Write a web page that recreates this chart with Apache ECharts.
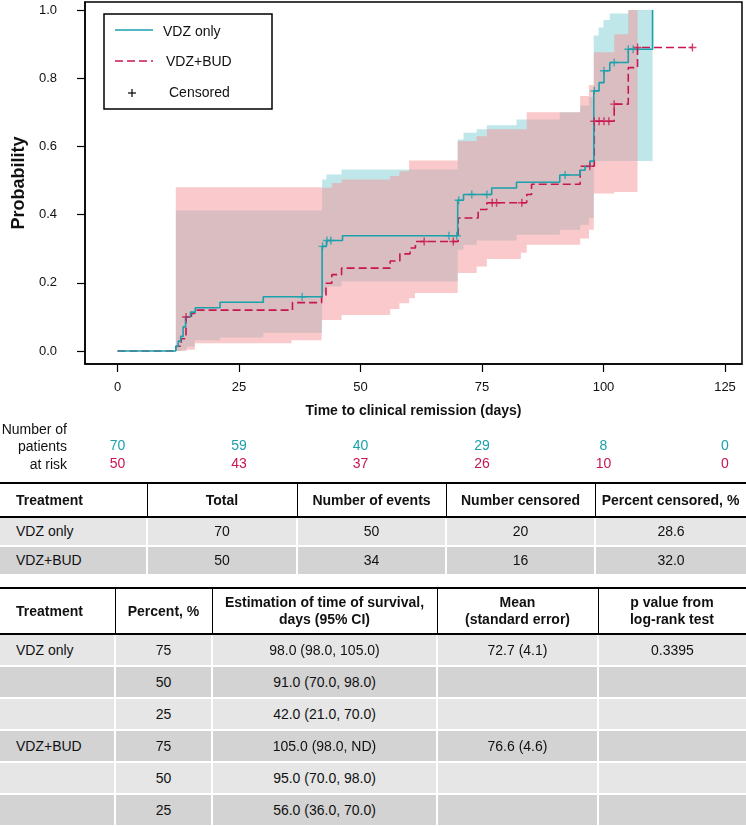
<!DOCTYPE html>
<html><head><meta charset="utf-8">
<script src="https://cdn.jsdelivr.net/npm/echarts@6/dist/echarts.min.js"></script>
<style>
html,body{margin:0;padding:0;background:#fff;}
#chart{position:absolute;left:0;top:0;width:746px;height:826px;}
.cell{position:absolute;box-sizing:border-box;display:flex;align-items:center;justify-content:center;font-family:"Liberation Sans",Arial,Helvetica,sans-serif;font-size:14px;color:#111;text-align:center;line-height:17px;white-space:pre-line;}
.left{justify-content:flex-start;padding-left:16px;text-align:left;}
.hd{font-weight:bold;}
.ln{position:absolute;background:#000;}
</style></head><body>
<div id="chart"></div>
<div id="tables"></div>
<script>
// ---------- data ----------
const xTicks = [0, 25, 50, 75, 100, 125];
const yTicks = [0, 0.2, 0.4, 0.6, 0.8, 1.0];
const atRiskVDZ = [70, 59, 40, 29, 8, 0];
const atRiskBUD = [50, 43, 37, 26, 10, 0];

// cumulative probability of clinical remission (step curves)
const vdzTimes = [0, 12, 12.5, 13, 13.5, 14, 15, 16, 21.1, 30, 42.1, 43.0, 46.3, 70.0, 71.2, 77.0, 82.1, 91.0, 95.2, 96.2, 97.2, 98.0, 99.1, 100.1, 101.3, 105.1, 110.1];
const vdzProb  = [0, 0.014, 0.029, 0.043, 0.071, 0.100, 0.114, 0.127, 0.143, 0.159, 0.307, 0.324, 0.338, 0.442, 0.459, 0.478, 0.495, 0.516, 0.530, 0.541, 0.557, 0.763, 0.787, 0.822, 0.846, 0.885, 1.0];
const budTimes = [0, 12, 13.1, 14.1, 15.2, 15.9, 36.0, 42.0, 42.9, 44.1, 46.1, 56.1, 58.1, 60.2, 61.3, 70.1, 74.2, 76.0, 84.2, 85.2, 95.2, 98.1, 102.2, 105.1, 107.0, 118.3];
const budProb  = [0, 0.014, 0.036, 0.100, 0.110, 0.120, 0.142, 0.160, 0.199, 0.224, 0.243, 0.264, 0.285, 0.302, 0.321, 0.390, 0.415, 0.435, 0.459, 0.489, 0.542, 0.674, 0.724, 0.831, 0.890, 0.890];

// censored observations
const vdzCensorT = [38.0, 42.2, 43.1, 43.9, 68.2, 69.8, 70.2, 72.9, 76.0, 92.1, 98.1, 100.1, 102.2, 105.1, 106.1];
const vdzCensorP = [0.159, 0.307, 0.324, 0.324, 0.338, 0.338, 0.442, 0.459, 0.459, 0.516, 0.763, 0.822, 0.846, 0.885, 0.885];
const budCensorT = [14.1, 63.1, 69.1, 77.1, 78.0, 83.2, 97.2, 98.1, 99.1, 100.1, 101.1, 102.2, 107.0, 118.3];
const budCensorP = [0.100, 0.321, 0.321, 0.435, 0.435, 0.435, 0.542, 0.674, 0.674, 0.674, 0.674, 0.724, 0.890, 0.890];

// 95% confidence bands (step)
const vdzBandT  = [12.0, 13.2, 14.2, 15.9, 21.1, 30.0, 42.1, 43.0, 46.1, 70.0, 71.2, 73.9, 76.0, 82.1, 91.0, 95.2, 97.0, 98.0, 99.0, 100.0, 101.3, 105.1];
const vdzBandLo = [0.000, 0.004, 0.013, 0.032, 0.040, 0.054, 0.170, 0.189, 0.204, 0.297, 0.312, 0.324, 0.324, 0.341, 0.356, 0.370, 0.390, 0.557, 0.557, 0.557, 0.557, 0.557];
const vdzBandHi = [0.412, 0.412, 0.412, 0.412, 0.412, 0.412, 0.503, 0.518, 0.532, 0.620, 0.640, 0.650, 0.662, 0.679, 0.700, 0.720, 0.745, 0.925, 0.949, 0.971, 0.990, 1.000];
const vdzBandEnd = 110.1;
const budBandT  = [12.0, 14.2, 15.9, 35.8, 42.0, 44.1, 46.1, 56.1, 58.0, 60.0, 61.2, 70.0, 73.9, 76.0, 83.0, 84.2, 95.2, 97.0, 98.0, 102.2, 105.1];
const budBandLo = [0.000, 0.004, 0.023, 0.032, 0.091, 0.091, 0.106, 0.123, 0.140, 0.155, 0.170, 0.229, 0.248, 0.270, 0.288, 0.312, 0.330, 0.356, 0.462, 0.466, 0.466];
const budBandHi = [0.480, 0.480, 0.480, 0.480, 0.479, 0.493, 0.503, 0.513, 0.527, 0.559, 0.559, 0.616, 0.630, 0.650, 0.650, 0.700, 0.748, 0.780, 0.876, 0.929, 1.000];
const budBandEnd = 107.0;

// tables
const summaryHeader = ['Treatment', 'Total', 'Number of events', 'Number censored', 'Percent censored, %'];
const summaryRows = [
  ['VDZ only', '70', '50', '20', '28.6'],
  ['VDZ+BUD', '50', '34', '16', '32.0']
];
const quantHeader = ['Treatment', 'Percent, %', 'Estimation of time of survival,\ndays (95% CI)', 'Mean\n(standard error)', 'p value from\nlog-rank test'];
const quantRows = [
  ['VDZ only', '75', '98.0 (98.0, 105.0)', '72.7 (4.1)', '0.3395'],
  ['', '50', '91.0 (70.0, 98.0)', '', ''],
  ['', '25', '42.0 (21.0, 70.0)', '', ''],
  ['VDZ+BUD', '75', '105.0 (98.0, ND)', '76.6 (4.6)', ''],
  ['', '50', '95.0 (70.0, 98.0)', '', ''],
  ['', '25', '56.0 (36.0, 70.0)', '', '']
];

// ---------- styling ----------
const FONT = '"Liberation Sans", Arial, Helvetica, sans-serif';
const TEAL = '#1aa1ac';
const RED = '#c8164f';
const CYAN_BAND = 'rgba(72,184,192,0.35)';
const PINK_BAND = 'rgba(243,147,153,0.5)';

function pairs(t, p) { return t.map((v, i) => [v, p[i]]); }

function bandSeries(name, T, Lo, Hi, end, color, z) {
  return {
    type: 'custom', name: name, z: z, silent: true, clip: true,
    data: [[T[0], Lo[0]]],
    renderItem: function (params, api) {
      const pts = [];
      for (let i = 0; i < T.length; i++) {
        const t1 = i + 1 < T.length ? T[i + 1] : end;
        pts.push(api.coord([T[i], Hi[i]]));
        pts.push(api.coord([t1, Hi[i]]));
      }
      for (let i = T.length - 1; i >= 0; i--) {
        const t1 = i + 1 < T.length ? T[i + 1] : end;
        pts.push(api.coord([t1, Lo[i]]));
        pts.push(api.coord([T[i], Lo[i]]));
      }
      return { type: 'polygon', shape: { points: pts }, style: { fill: color } };
    }
  };
}

const plusPath = 'path://M4,0L4,8M0,4L8,4';

const chart = echarts.init(document.getElementById('chart'), null, { renderer: 'canvas' });
chart.setOption({
  animation: false,
  textStyle: { fontFamily: FONT },
  grid: { left: 85, top: 2, width: 657, height: 362, show: true, borderColor: '#000', borderWidth: 1.5, backgroundColor: 'transparent' },
  xAxis: [
    {
      type: 'value', min: -6.69, max: 128.5, position: 'bottom',
      axisLine: { show: true, onZero: false, lineStyle: { color: '#000', width: 1.5 } },
      axisTick: { show: true, customValues: xTicks, length: 8, lineStyle: { color: '#000', width: 1.2 } },
      axisLabel: { customValues: xTicks, margin: 17, fontSize: 13, color: '#111', fontFamily: FONT },
      splitLine: { show: false },
      name: 'Time to clinical remission (days)', nameLocation: 'middle', nameGap: 40,
      nameTextStyle: { fontSize: 14, fontWeight: 'bold', color: '#111', fontFamily: FONT }
    },
    {
      type: 'value', min: -6.69, max: 128.5, position: 'bottom', offset: 67, gridIndex: 0,
      axisLine: { show: false, onZero: false }, axisTick: { show: false }, splitLine: { show: false },
      axisLabel: { customValues: xTicks, margin: 8, fontSize: 14, color: TEAL, fontFamily: FONT,
        formatter: v => String(atRiskVDZ[xTicks.indexOf(v)]) }
    },
    {
      type: 'value', min: -6.69, max: 128.5, position: 'bottom', offset: 85, gridIndex: 0,
      axisLine: { show: false, onZero: false }, axisTick: { show: false }, splitLine: { show: false },
      axisLabel: { customValues: xTicks, margin: 8, fontSize: 14, color: RED, fontFamily: FONT,
        formatter: v => String(atRiskBUD[xTicks.indexOf(v)]) }
    }
  ],
  yAxis: {
    type: 'value', min: -0.038, max: 1.0235,
    axisLine: { show: true, onZero: false, lineStyle: { color: '#000', width: 1.5 } },
    axisTick: { show: true, customValues: yTicks, length: 8, lineStyle: { color: '#000', width: 1.2 } },
    axisLabel: { customValues: yTicks, margin: 28, fontSize: 13, color: '#111', fontFamily: FONT,
      formatter: v => v.toFixed(1) },
    splitLine: { show: false },
    name: 'Probability', nameLocation: 'middle', nameGap: 52,
    nameTextStyle: { fontSize: 18, fontWeight: 'bold', color: '#111', fontFamily: FONT }
  },
  series: [
    bandSeries('VDZ only CI', vdzBandT, vdzBandLo, vdzBandHi, vdzBandEnd, CYAN_BAND, 1),
    bandSeries('VDZ+BUD CI', budBandT, budBandLo, budBandHi, budBandEnd, PINK_BAND, 2),
    {
      type: 'line', name: 'VDZ only', step: 'end', showSymbol: false, z: 5,
      data: pairs(vdzTimes, vdzProb),
      lineStyle: { color: TEAL, width: 1.6 }, itemStyle: { color: TEAL }
    },
    {
      type: 'line', name: 'VDZ+BUD', step: 'end', showSymbol: false, z: 4,
      data: pairs(budTimes, budProb),
      lineStyle: { color: RED, width: 1.6, type: [8, 4] }, itemStyle: { color: RED }
    },
    {
      type: 'scatter', name: 'VDZ only censored', z: 6, symbol: plusPath, symbolSize: [8, 8],
      data: pairs(vdzCensorT, vdzCensorP),
      itemStyle: { color: 'rgba(0,0,0,0)', borderColor: TEAL, borderWidth: 1.4 }
    },
    {
      type: 'scatter', name: 'VDZ+BUD censored', z: 6, symbol: plusPath, symbolSize: [8, 8],
      data: pairs(budCensorT, budCensorP),
      itemStyle: { color: 'rgba(0,0,0,0)', borderColor: RED, borderWidth: 1.4 }
    }
  ],
  graphic: [
    { type: 'rect', shape: { x: 104, y: 14, width: 168, height: 95 }, style: { fill: '#fff', stroke: '#000', lineWidth: 1.5 }, z: 20 },
    { type: 'line', shape: { x1: 115, y1: 30, x2: 153, y2: 30 }, style: { stroke: TEAL, lineWidth: 1.6 }, z: 21 },
    { type: 'line', shape: { x1: 115, y1: 61, x2: 153, y2: 61 }, style: { stroke: RED, lineWidth: 1.6, lineDash: [8, 4] }, z: 21 },
    { type: 'line', shape: { x1: 132, y1: 89, x2: 132, y2: 97 }, style: { stroke: '#000', lineWidth: 1.2 }, z: 21 },
    { type: 'line', shape: { x1: 128, y1: 93, x2: 136, y2: 93 }, style: { stroke: '#000', lineWidth: 1.2 }, z: 21 },
    { type: 'text', x: 163, y: 32, style: { text: 'VDZ only', fontSize: 14, fontFamily: FONT, fill: '#111', textVerticalAlign: 'middle' }, z: 21 },
    { type: 'text', x: 166, y: 62, style: { text: 'VDZ+BUD', fontSize: 14, fontFamily: FONT, fill: '#111', textVerticalAlign: 'middle' }, z: 21 },
    { type: 'text', x: 169, y: 93, style: { text: 'Censored', fontSize: 14, fontFamily: FONT, fill: '#111', textVerticalAlign: 'middle' }, z: 21 },
    { type: 'text', x: 67, y: 430, style: { text: 'Number of', fontSize: 14, fontFamily: FONT, fill: '#111', textAlign: 'right', textVerticalAlign: 'middle' } },
    { type: 'text', x: 67, y: 447, style: { text: 'patients', fontSize: 14, fontFamily: FONT, fill: '#111', textAlign: 'right', textVerticalAlign: 'middle' } },
    { type: 'text', x: 67, y: 465, style: { text: 'at risk', fontSize: 14, fontFamily: FONT, fill: '#111', textAlign: 'right', textVerticalAlign: 'middle' } }
  ]
});

// ---------- tables (HTML) ----------
const host = document.getElementById('tables');
function addDiv(cls, l, t, w, h, text, bg) {
  const d = document.createElement('div');
  d.className = cls;
  d.style.left = l + 'px'; d.style.top = t + 'px';
  d.style.width = w + 'px'; d.style.height = h + 'px';
  if (bg) d.style.background = bg;
  if (text !== undefined) d.textContent = text;
  host.appendChild(d);
  return d;
}
function makeTable(top, cols, headH, rowH, header, rows, colors) {
  const W = 746;
  header.forEach((txt, j) => {
    addDiv('cell hd' + (j === 0 ? ' left' : ''), cols[j], top, cols[j + 1] - cols[j], headH, txt);
  });
  addDiv('ln', 0, top - 1, W, 2);
  addDiv('ln', 0, top + headH - 1, W, 1.5);
  for (let j = 1; j < cols.length - 1; j++) addDiv('ln', cols[j], top, 1, headH);
  rows.forEach((r, i) => {
    const rt = top + headH + i * rowH;
    r.forEach((txt, j) => {
      const l = j === 0 ? 0 : cols[j] + 1;
      const rgt = j === cols.length - 2 ? W : cols[j + 1] - 1;
      addDiv('cell' + (j === 0 ? ' left' : ''), l, rt + 1, rgt - l, rowH - 2, txt, colors[i % colors.length]);
    });
  });
}
makeTable(483, [0, 147, 297, 446, 595, 746], 34, 29, summaryHeader, summaryRows, ['#e6e6e6', '#d3d3d3']);
makeTable(588, [0, 115, 212, 437, 598, 746], 46, 32, quantHeader, quantRows, ['#e6e6e6', '#d3d3d3']);
</script>
</body></html>
